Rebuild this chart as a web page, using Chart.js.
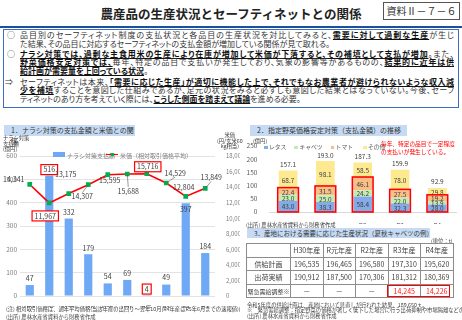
<!DOCTYPE html>
<html lang="ja">
<head>
<meta charset="utf-8">
<script src="https://cdn.jsdelivr.net/npm/chart.js@4"></script>
<style>
  body { margin:0; width:462px; height:320px; position:relative; overflow:hidden; background:#fff;
         font-family:'Noto Sans CJK JP', sans-serif; color:#333; }
  .a { position:absolute; white-space:nowrap; }
  .ln { position:absolute; left:20px; width:434px; font-size:8px; line-height:8.5px; height:8.5px;
        font-feature-settings:"palt"; }
  .j { text-align:justify; text-align-last:justify; }
  .mk { position:absolute; font-size:8px; line-height:8.5px; }
  u { font-weight:bold; color:#111; text-decoration:underline; text-underline-offset:1px; }
  .sec { position:absolute; background:#c6dbf3; font-size:7px; line-height:11px; height:11px; padding-left:7px; }
  .note { position:absolute; font-size:5.3px; white-space:nowrap; color:#404040; }
  table { position:absolute; left:246px; top:243px; border-collapse:collapse; font-size:7px; color:#404040; }
  td { border:0.8px solid #8c8c8c; height:12.6px; padding:0; text-align:center; width:31.5px; }
  td.h { width:43px; }
  td.red { color:#ff1a1a; }
</style>
</head>
<body>
<div class="a" style="left:0;width:462px;top:4px;text-align:center;font-size:12.5px;font-weight:bold;color:#222;">農産品の生産状況とセーフティネットとの関係</div>
<div class="a" style="left:383px;top:2px;width:75px;height:16px;border:1px solid #555;font-size:10px;line-height:16px;text-align:center;color:#333;">資料Ⅱ－７－６</div>
<div class="a" style="left:0;top:26px;width:462px;height:2px;background:#1f4e9a;"></div>
<div class="a" style="left:3px;top:29px;width:454px;height:77px;border:1px solid #3a6fc4;background:#fff;"></div>

<div class="mk" style="left:7px;top:31.3px;">○</div>
<div class="ln j" style="top:31.3px;">品目別のセーフティネット制度の支払状況と各品目の生産状況を対比してみると、<u>需要に対して過剰な生産</u>が生じ</div>
<div class="ln" style="top:39.6px;">た結果、その品目に対応するセーフティネットの支払金額が増加している関係が見て取れる。</div>
<div class="mk" style="left:7px;top:49.8px;">○</div>
<div class="ln j" style="top:49.8px;"><u>ナラシ対策では、過剰な主食用米の生産により在庫が増加して米価が下落すると、その補填として支払が増加</u>。また、</div>
<div class="ln j" style="top:58.3px;"><u>野菜価格安定対策では、</u>毎年、特定の品目で支払いが発生しており、気象の影響等があるものの、<u>結果的に近年は供</u></div>
<div class="ln" style="top:66.8px;"><u>給計画が需要量を上回っている状況</u>。</div>
<div class="mk" style="left:5px;top:77.8px;">⇒</div>
<div class="ln j" style="top:77.8px;">セーフティネットは本来、<u>「需要に応じた生産」が適切に機能した上で、それでもなお農業者が避けられないような収入減</u></div>
<div class="ln j" style="top:86.3px;"><u>少を補填</u>することを意図した仕組みであるが、足元の状況をみると必ずしも意図した結果とはなっていない。今後、セーフ</div>
<div class="ln" style="top:94.8px;">ティネットのあり方を考えていく際には、<u>こうした側面を踏まえて議論</u>を進める必要。</div>

<div class="sec" style="left:4px;top:125px;width:124px;">1．ナラシ対策の支払金額と米価との関係</div>
<div class="sec" style="left:250px;top:125px;width:150px;">2．指定野菜価格安定対策（支払金額）の推移</div>
<div class="sec" style="left:247px;top:228px;width:176px;font-size:6.5px;line-height:10px;height:10px;">3．産地における需要に応じた生産状況（夏秋キャベツの例）</div>

<canvas id="narashiChart" width="240" height="168" style="position:absolute;left:0;top:140px;"></canvas>
<canvas id="vegChart" width="227" height="86" style="position:absolute;left:235px;top:138px;"></canvas>

<!-- chart 1 titles / legend -->
<div class="note" style="left:3px;top:136px;font-size:5.3px;line-height:5.6px;">ナラシ対策<br>支払額<br>(億円)</div>
<div class="note" style="left:217px;top:133px;font-size:5.3px;line-height:5.6px;text-align:center;">米価<br>(円/玄米60<br>kg相当)</div>
<div class="a" style="left:53px;top:151.5px;width:12px;height:5px;background:#6fa8f5;"></div>
<div class="note" style="left:67px;top:150.5px;font-size:6px;color:#7f7f7f;">ナラシ対策支払額</div>
<div class="a" style="left:106px;top:153.5px;width:12px;height:1.5px;background:#ff0000;"></div>
<div class="a" style="left:110.5px;top:152.5px;width:3.5px;height:3.5px;background:#00b050;"></div>
<div class="note" style="left:120px;top:150.5px;font-size:6px;color:#7f7f7f;">米価（相対取引価格平均）</div>
<div class="note" style="left:6px;top:305px;">(注) 相対取引価格は、通年平均価格(当該年産の出回り～翌年10月(R4年産はR5年6月までの速報値))</div>
<div class="note" style="left:6px;top:313px;">(出所) 農林水産省資料から財務省作成</div>

<!-- chart 2 titles / legend -->
<div class="note" style="left:253px;top:136.5px;font-size:5.3px;">(億円)</div>
<div id="vegLegend" class="a" style="left:264px;top:142px;font-size:5.8px;color:#595959;"></div>
<div class="note" style="left:381px;top:139.5px;font-size:5.7px;line-height:8px;color:#ff0000;">毎年、特定の品目で一定程度<br>の支払いが発生している。</div>
<div class="note" style="left:246px;top:221px;">(出所) 農林水産省資料から財務省作成</div>

<div class="note" style="left:431px;top:237px;font-size:5.3px;">(単位：t)</div>
<table id="cabbageTable"></table>
<div class="a" style="left:387px;top:284.5px;width:63px;height:12.5px;border:1.5px solid #ff0000;box-sizing:border-box;"></div>
<div class="note" style="left:247px;top:300.5px;">令和5年度の供給計画は、産地において見直しが行われた結果、189,650ｔ。</div>
<div class="note" style="left:247px;top:306px;">※　緊急需給調整：指定野菜の価格が著しく低下した場合に行う出荷抑制や市場隔離などの出荷調整。</div>
<div class="note" style="left:247px;top:311.5px;">(出所) 農林水産省資料から財務省作成</div>

<script>
// 1. ナラシ対策
const years = ['H25', 'H26', 'H27', 'H28', 'H29', 'H30', 'R元', 'R2', 'R3', 'R4'];
const narashiPay = [47, 516, 332, 179, 54, 69, 4, 49, 397, 184];      // 億円
const ricePrice = [14341, 11967, 13175, 14307, 15595, 15688, 15716, 14529, 12804, 13849]; // 円/60kg

// 2. 指定野菜価格安定対策
const vegYears = ['H30', 'R1', 'R2', 'R3', 'R4'];
const lettuce = [43.0, 38.3, 58.4, 32.3, 28.0];
const cabbage = [23.0, 25.0, 24.2, 22.0, 13.9];
const tomato = [22.4, 31.5, 46.1, 27.5, 19.2];
const others = [68.7, 98.1, 58.5, 78.0, 29.8];
const vegTotals = [157.1, 193.0, 187.3, 159.9, 92.9];

// 3. 夏秋キャベツ
const cabbageYears = ['H30年産', 'R元年産', 'R2年産', 'R3年産', 'R4年産'];
const supplyPlan = [196535, 196465, 196580, 197310, 195620];
const shipped = [190912, 187500, 170306, 181312, 180369];
const emergency = [null, null, null, 14245, 14226];

const FONT = "'Noto Sans CJK JP', 'Noto Sans', sans-serif";
Chart.defaults.font.family = FONT;
Chart.defaults.color = '#595959';

// label placement (style only)
const barLabelDy = [-7, -6, -6, -6, -7, -7, -6, -7, 6, -7];
const boxedBars = [1, 6];
const lineLabelOff = [[-16, -5], [-4, 13], [-3, -19], [-6, 12], [2, 6], [1, 17], [1, -7], [9, -10], [-2, -9], [6, -11]];
const boxedLine = [1, 6];
const leaderLine = [3, 5, 7, 9];

function boxText(ctx, t, x, y) {
  const w = ctx.measureText(t).width;
  ctx.save();
  ctx.fillStyle = '#fff';
  ctx.fillRect(x - w / 2 - 2.5, y - 5, w + 5, 10);
  ctx.strokeStyle = '#ff0000';
  ctx.lineWidth = 1.2;
  ctx.strokeRect(x - w / 2 - 2.5, y - 5, w + 5, 10);
  ctx.restore();
}

const narashiLabels = {
  id: 'narashiLabels',
  afterDatasetsDraw(chart) {
    const ctx = chart.ctx;
    ctx.save();
    ctx.font = '7px ' + FONT;
    ctx.textAlign = 'center';
    ctx.textBaseline = 'middle';
    chart.getDatasetMeta(0).data.forEach((bar, i) => {
      const t = narashiPay[i].toString();
      const y = bar.y + barLabelDy[i];
      if (boxedBars.includes(i)) boxText(ctx, t, bar.x, y);
      ctx.fillStyle = '#404040';
      ctx.fillText(t, bar.x, y);
    });
    chart.getDatasetMeta(1).data.forEach((pt, i) => {
      const t = ricePrice[i].toLocaleString('en-US');
      const x = pt.x + lineLabelOff[i][0];
      const y = pt.y + lineLabelOff[i][1];
      if (leaderLine.includes(i)) {
        ctx.strokeStyle = '#595959';
        ctx.lineWidth = 0.6;
        ctx.beginPath();
        ctx.moveTo(pt.x, pt.y);
        ctx.lineTo(x, y + (lineLabelOff[i][1] > 0 ? -4 : 4));
        ctx.stroke();
      }
      if (boxedLine.includes(i)) boxText(ctx, t, x, y);
      ctx.fillStyle = '#404040';
      ctx.fillText(t, x, y);
    });
    ctx.restore();
  }
};

new Chart(document.getElementById('narashiChart'), {
  data: {
    labels: years,
    datasets: [
      { type: 'bar', label: 'ナラシ対策支払額', data: narashiPay, yAxisID: 'y',
        backgroundColor: '#6fa8f5', barPercentage: 0.42, categoryPercentage: 1, order: 2 },
      { type: 'line', label: '米価（相対取引価格平均）', data: ricePrice, yAxisID: 'y1',
        borderColor: '#ff0000', borderWidth: 1.6, tension: 0, pointStyle: 'rect',
        pointRadius: 2.2, pointBackgroundColor: '#00b050', pointBorderColor: '#00b050', order: 1 }
    ]
  },
  options: {
    responsive: false,
    animation: false,
    layout: { padding: { top: 16, left: 0, right: 0, bottom: 0 } },
    plugins: { legend: { display: false }, tooltip: { enabled: false } },
    scales: {
      x: {
        grid: { display: false }, border: { display: false },
        ticks: { font: { size: 6.5 }, color: '#595959', padding: 1, maxRotation: 0 },
        afterFit: s => { s.height = 12; }
      },
      y: {
        position: 'left', min: 0, max: 600,
        ticks: { stepSize: 100, font: { size: 6.5 }, color: '#7f7f7f', padding: 3 },
        grid: { color: '#e3e3e3', drawTicks: false }, border: { display: false },
        afterFit: s => { s.width = 20; }
      },
      y1: {
        position: 'right', min: 0, max: 18000,
        ticks: { stepSize: 2000, font: { size: 6 }, color: '#7f7f7f', padding: 3,
                 callback: v => v.toLocaleString('en-US') },
        grid: { display: false }, border: { display: false },
        afterFit: s => { s.width = 25; }
      }
    }
  },
  plugins: [narashiLabels]
});

// chart 2
const vegColors = ['#83abe8', '#c3ecb1', '#f9bf86', '#fde98f'];
const vegNames = ['レタス', 'キャベツ', 'トマト', 'その他'];

const vegLabels = {
  id: 'vegLabels',
  afterDatasetsDraw(chart) {
    const ctx = chart.ctx;
    ctx.save();
    ctx.font = '6.5px ' + FONT;
    ctx.textAlign = 'center';
    ctx.textBaseline = 'middle';
    const series = [lettuce, cabbage, tomato, others];
    series.forEach((vals, d) => {
      chart.getDatasetMeta(d).data.forEach((el, i) => {
        ctx.fillStyle = '#404040';
        ctx.fillText(vals[i].toFixed(1), el.x, (el.y + el.base) / 2 + 0.5);
      });
    });
    const top = chart.getDatasetMeta(3).data;
    top.forEach((el, i) => {
      ctx.fillStyle = '#404040';
      ctx.fillText(vegTotals[i].toFixed(1), el.x, el.y - 6);
    });
    // red frame around レタス・キャベツ・トマト
    ctx.strokeStyle = '#ff0000';
    ctx.lineWidth = 1.6;
    chart.getDatasetMeta(2).data.forEach((el, i) => {
      const base = chart.getDatasetMeta(0).data[i].base;
      const w = el.width + 2;
      ctx.strokeRect(el.x - w / 2, el.y - 1, w, base - el.y + 1);
    });
    ctx.restore();
  }
};

new Chart(document.getElementById('vegChart'), {
  type: 'bar',
  data: {
    labels: vegYears,
    datasets: [lettuce, cabbage, tomato, others].map((vals, d) => ({
      label: vegNames[d], data: vals, backgroundColor: vegColors[d],
      barPercentage: 0.5, categoryPercentage: 1
    }))
  },
  options: {
    responsive: false,
    animation: false,
    layout: { padding: { top: 8, right: 6, left: 0, bottom: 0 } },
    plugins: { legend: { display: false }, tooltip: { enabled: false } },
    scales: {
      x: {
        stacked: true, grid: { display: false }, border: { color: '#d9d9d9' },
        ticks: { font: { size: 6.5 }, color: '#595959', padding: 2, maxRotation: 0 },
        afterFit: s => { s.height = 12; }
      },
      y: {
        stacked: true, min: 0, max: 250,
        ticks: { stepSize: 50, font: { size: 6.5 }, color: '#595959', padding: 4 },
        grid: { display: false }, border: { display: false },
        afterFit: s => { s.width = 34.4; }
      }
    }
  },
  plugins: [vegLabels]
});

// legend for chart 2
document.getElementById('vegLegend').innerHTML = vegNames.map((n, d) =>
  '<span style="display:inline-block;width:3.5px;height:3.5px;background:' + vegColors[d] +
  ';margin-right:1.5px;vertical-align:middle;"></span><span style="margin-right:' + (d === 2 ? 10 : 8) + 'px;">' + n + '</span>'
).join('');

// table
const fmt = v => v == null ? '－' : v.toLocaleString('en-US');
let html = '<tr><td class="h"></td>' + cabbageYears.map(y => '<td>' + y + '</td>').join('') + '</tr>';
html += '<tr><td class="h">供給計画</td>' + supplyPlan.map(v => '<td>' + fmt(v) + '</td>').join('') + '</tr>';
html += '<tr><td class="h">出荷実績</td>' + shipped.map(v => '<td>' + fmt(v) + '</td>').join('') + '</tr>';
html += '<tr><td class="h" style="font-size:6px;">緊急需給調整※</td>' +
  emergency.map(v => '<td' + (v == null ? '' : ' class="red"') + '>' + fmt(v) + '</td>').join('') + '</tr>';
document.getElementById('cabbageTable').innerHTML = html;
</script>
</body>
</html>
